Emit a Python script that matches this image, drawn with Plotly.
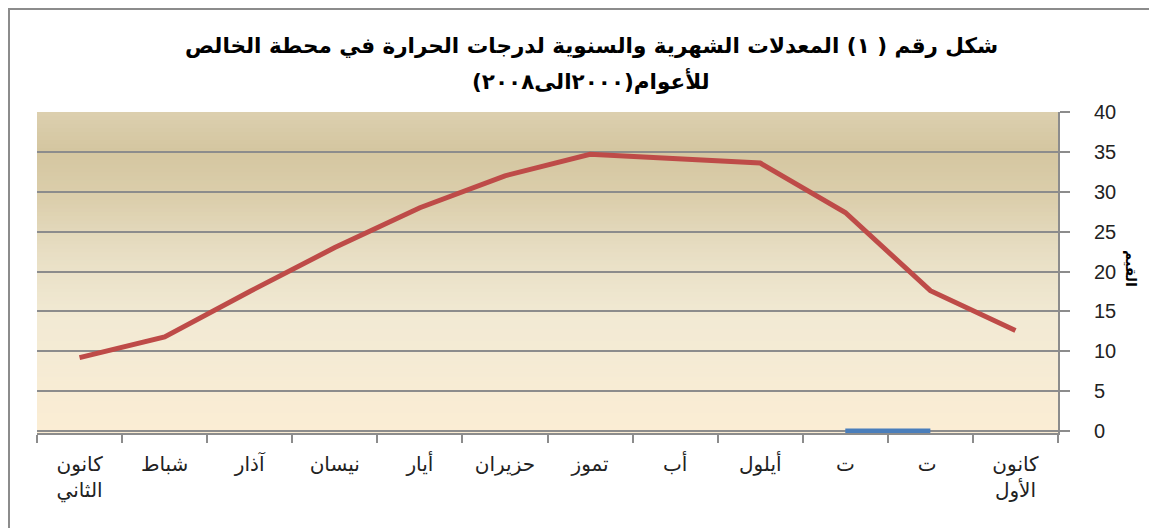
import plotly.graph_objects as go

# ---- data ----
months = ["كانون<br>الثاني", "شباط", "آذار", "نيسان", "أيار", "حزيران",
          "تموز", "أب", "أيلول", "ت", "ت ", "كانون<br>الأول"]
temps = [9.2, 11.8, 17.5, 23.0, 28.0, 32.0, 34.7, 34.2, 33.6, 27.4, 17.6, 12.6]
second_series = [None, None, None, None, None, None, None, None, None, 0, 0, None]
y_ticks = [0, 5, 10, 15, 20, 25, 30, 35, 40]

title_l1 = "شكل رقم ( ١) المعدلات الشهرية والسنوية لدرجات الحرارة في محطة الخالص"
title_l2 = "للأعوام(٢٠٠٠الى٢٠٠٨)"
y_title = "القيم"

RLE, PDF = "\u202b", "\u202c"

fig = go.Figure()
fig.add_trace(go.Scatter(x=months, y=temps, mode="lines",
                         line=dict(color="#be4b48", width=5), showlegend=False,
                         hoverinfo="skip"))
fig.add_trace(go.Scatter(x=months, y=second_series, mode="lines",
                         line=dict(color="#4a7ebb", width=5), showlegend=False,
                         hoverinfo="skip"))

# gradient background bands
def lerp(c1, c2, t):
    return tuple(round(a + (b - a) * t) for a, b in zip(c1, c2))

def hx(h):
    h = h.lstrip("#")
    return tuple(int(h[i:i + 2], 16) for i in (0, 2, 4))

stops = [(0.0, hx("#fbedd4")), (0.35, hx("#f2ead4")), (0.55, hx("#e8dfc5")),
         (0.72, hx("#dccfad")), (0.88, hx("#d4c6a0")), (1.0, hx("#dcd0af"))]
n = 80
shapes = []
for i in range(n):
    y0 = i / n
    y1 = (i + 1) / n
    t = (y0 + y1) / 2
    for (s0, c0), (s1, c1) in zip(stops[:-1], stops[1:]):
        if s0 <= t <= s1:
            col = lerp(c0, c1, (t - s0) / (s1 - s0))
            break
    shapes.append(dict(type="rect", xref="paper", yref="paper", x0=0, x1=1,
                       y0=y0, y1=min(1, y1 + 0.002), line=dict(width=0),
                       fillcolor="rgb(%d,%d,%d)" % col, layer="below"))

# page body has an 8px margin; compensate so the plot lands where the reference has it
OFF = 8
W, H = 1157 - OFF, 528 - OFF
ml, mt = 37 - OFF, 112 - OFF
pw, ph = 1021, 321
mr = W - ml - pw
mb = H - mt - ph

def px(pix):
    return (pix - OFF - ml) / pw

def py(pix):
    return (H - mb - (pix - OFF)) / ph

# outer chart frame
shapes.append(dict(type="rect", xref="paper", yref="paper",
                   x0=(1 - ml) / pw, x1=(W + 5 - ml) / pw,
                   y0=-(mb + 5) / ph, y1=(H - mb - 1) / ph,
                   line=dict(color="#8c8c8c", width=2),
                   fillcolor="rgba(0,0,0,0)", layer="above"))

title_font = dict(family="DejaVu Sans", size=21.5, color="black", weight="bold")

fig.update_layout(
    width=W, height=H,
    margin=dict(l=ml, r=mr, t=mt, b=mb, autoexpand=False),
    paper_bgcolor="white", plot_bgcolor="#f5ecd6",
    shapes=shapes,
    xaxis=dict(type="category", range=[-0.5, 11.5],
               tickson="boundaries", ticks="outside",
               ticklen=8, tickcolor="#8c8c8c", tickwidth=2,
               ticklabelstandoff=12,
               showline=True, linecolor="#8c8c8c", linewidth=2,
               showgrid=False, zeroline=False, automargin=False,
               tickfont=dict(family="DejaVu Sans", size=20, color="#222")),
    yaxis=dict(range=[-0.25, 40], side="right", tickvals=y_ticks,
               ticks="outside", ticklen=10, tickcolor="#8c8c8c", tickwidth=2,
               ticklabelstandoff=20,
               showline=True, linecolor="#8c8c8c", linewidth=2,
               showgrid=True, gridcolor="#8c8c8c", gridwidth=2,
               zeroline=False, automargin=False,
               tickfont=dict(family="Liberation Sans", size=20, color="#222")),
    annotations=[
        dict(text=RLE + title_l1 + PDF, xref="paper", yref="paper",
             x=px(591), y=py(45), xanchor="center", yanchor="middle",
             showarrow=False, font=title_font),
        dict(text=RLE + title_l2 + PDF, xref="paper", yref="paper",
             x=px(591), y=py(80), xanchor="center", yanchor="middle",
             showarrow=False, font=title_font),
        dict(text="<b>" + y_title + "</b>", xref="paper", yref="paper",
             x=px(1141), y=py(268), showarrow=False, textangle=90,
             font=dict(family="DejaVu Sans", size=14, color="black")),
    ],
)

fig.write_html("out.html")
